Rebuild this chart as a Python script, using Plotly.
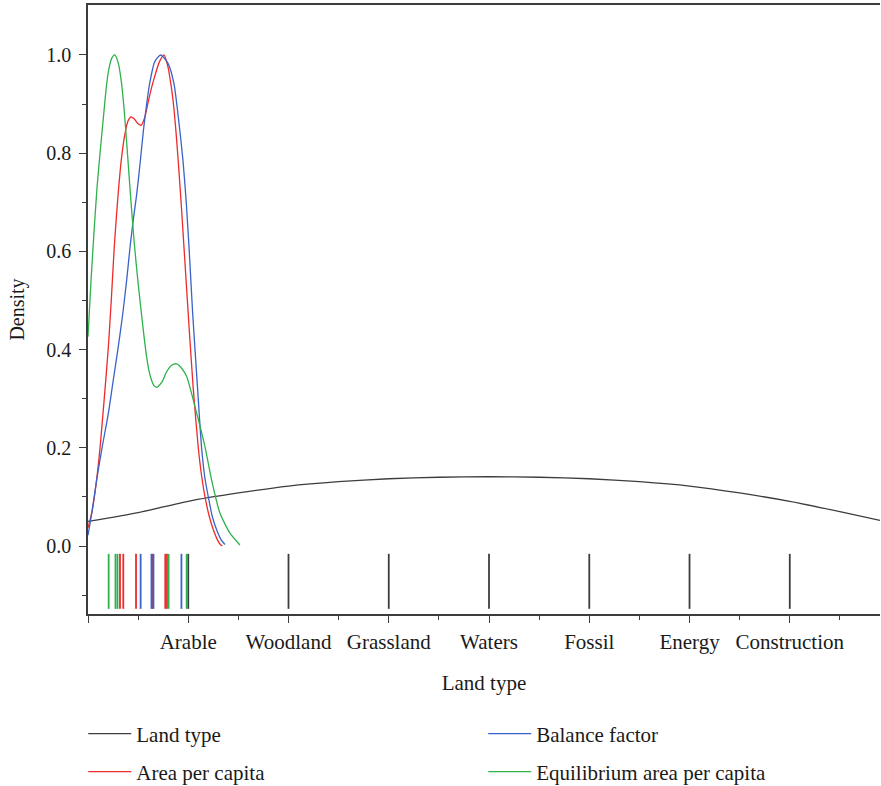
import plotly.graph_objects as go

# ---- data ----
land_types = ["Arable", "Woodland", "Grassland", "Waters", "Fossil", "Energy", "Construction"]
land_pos = [1, 2, 3, 4, 5, 6, 7]

# rug values (raw observations)
rug_land = [1, 2, 3, 4, 5, 6, 7]
rug_area = [0.319, 0.352, 0.479, 0.643, 0.771, 0.788]
rug_balance = [0.525, 0.633, 0.653, 0.932]
rug_equil = [0.206, 0.274, 0.294, 0.804, 0.984]

# density curves
land_x = [0, 0.5, 1, 1.5, 2, 2.5, 3, 3.5, 4, 4.5, 5, 5.5, 6, 6.5, 7, 7.5, 7.9]
land_y = [0.050, 0.068, 0.091, 0.108, 0.122, 0.131, 0.137, 0.140, 0.141, 0.140, 0.137, 0.131, 0.122, 0.108, 0.091, 0.070, 0.052]

area_x = [0.0, 0.04, 0.08, 0.12, 0.16, 0.203, 0.232, 0.262, 0.296, 0.332, 0.369, 0.40, 0.43, 0.46, 0.50, 0.532,
          0.565, 0.598, 0.632, 0.665, 0.71, 0.758, 0.795, 0.831, 0.86, 0.885, 0.91, 0.935, 0.96, 0.985, 1.01,
          1.05, 1.10, 1.135, 1.167, 1.21, 1.25, 1.29, 1.316, 1.34]
area_y = [0.037, 0.07, 0.125, 0.2, 0.295, 0.405, 0.5, 0.609, 0.705, 0.786, 0.84, 0.866, 0.874, 0.87, 0.86, 0.857,
          0.872, 0.902, 0.932, 0.956, 0.985, 1.0, 0.978, 0.935, 0.885, 0.825, 0.755, 0.68, 0.6, 0.52, 0.44,
          0.32, 0.2, 0.14, 0.1, 0.06, 0.033, 0.013, 0.004, 0.0]

bal_x = [0.0, 0.04, 0.086, 0.14, 0.203, 0.25, 0.302, 0.345, 0.386, 0.42, 0.452, 0.485, 0.52, 0.552, 0.585, 0.615,
         0.665, 0.725, 0.798, 0.857, 0.904, 0.947, 0.98, 1.01, 1.044, 1.09, 1.133, 1.165, 1.2, 1.24, 1.283,
         1.33, 1.366]
bal_y = [0.022, 0.07, 0.134, 0.2, 0.27, 0.335, 0.406, 0.47, 0.542, 0.61, 0.665, 0.715, 0.78, 0.845, 0.90, 0.942,
         0.986, 1.0, 0.983, 0.942, 0.868, 0.786, 0.70, 0.6, 0.474, 0.33, 0.2, 0.14, 0.1, 0.06, 0.033,
         0.012, 0.003]

eq_x = [0.0, 0.03, 0.06, 0.09, 0.12, 0.15, 0.183, 0.206, 0.236, 0.266, 0.30, 0.33, 0.36, 0.39, 0.42, 0.46,
        0.50, 0.535, 0.56, 0.585, 0.61, 0.635, 0.66, 0.685, 0.735, 0.785, 0.835, 0.884, 0.934, 0.984, 1.067,
        1.167, 1.233, 1.316, 1.416, 1.515]
eq_y = [0.426, 0.54, 0.64, 0.73, 0.80, 0.865, 0.935, 0.969, 0.993, 1.0, 0.985, 0.95, 0.89, 0.81, 0.725, 0.62,
        0.535, 0.47, 0.425, 0.385, 0.355, 0.337, 0.326, 0.323, 0.333, 0.355, 0.368, 0.371, 0.362, 0.345, 0.284,
        0.202, 0.134, 0.067, 0.026, 0.002]

# ---- styling ----
C_LAND = "#3d3d3d"
C_AREA = "#ee2a2a"
C_BAL = "#3a62c8"
C_EQ = "#2fb14c"
FONT = "Liberation Serif"
RUG_TOP, RUG_BOT = -0.016, -0.128


def rug(vals):
    xs, ys = [], []
    for v in vals:
        xs += [v, v, None]
        ys += [RUG_TOP, RUG_BOT, None]
    return xs, ys


fig = go.Figure()

series = [
    ("Land type", land_x, land_y, rug_land, C_LAND, "legend", 1),
    ("Area per capita", area_x, area_y, rug_area, C_AREA, "legend3", 3),
    ("Balance factor", bal_x, bal_y, rug_balance, C_BAL, "legend2", 2),
    ("Equilibrium area per capita", eq_x, eq_y, rug_equil, C_EQ, "legend4", 4),
]

for name, xs, ys, rv, col, leg, rank in series:
    fig.add_trace(go.Scatter(x=xs, y=ys, mode="lines", name=name,
                             line=dict(color=col, width=1.3, shape="spline", smoothing=0.6),
                             legend=leg, legendrank=rank, hoverinfo="skip"))
for name, xs, ys, rv, col, leg, rank in series:
    rx, ry = rug(rv)
    fig.add_trace(go.Scatter(x=rx, y=ry, mode="lines", showlegend=False,
                             line=dict(color=col, width=1.8), hoverinfo="skip"))

axis_common = dict(showgrid=False, zeroline=False, showline=True, linecolor="#3c3c3c", linewidth=1.5,
                   ticks="outside", ticklen=7, tickwidth=1.3, tickcolor="#3c3c3c",
                   tickfont=dict(family=FONT, size=21, color="#1a1a1a"))

fig.update_xaxes(**axis_common, range=[0, 7.9], mirror=True,
                 tickmode="array", tickvals=[0] + land_pos, ticktext=[""] + land_types,
                 minor=dict(ticks="outside", ticklen=4, tickwidth=1.2, tickcolor="#3c3c3c", dtick=0.5, tick0=0),
                 ticklabelstandoff=1,
                 title=dict(text="Land type", font=dict(family=FONT, size=21, color="#1a1a1a"), standoff=22))
fig.update_yaxes(**axis_common, range=[-0.1385, 1.1018],
                 tickmode="array", tickvals=[0, 0.2, 0.4, 0.6, 0.8, 1.0],
                 ticktext=["0.0", "0.2", "0.4", "0.6", "0.8", "1.0"],
                 minor=dict(ticks="outside", ticklen=4, tickwidth=1.2, tickcolor="#3c3c3c",
                            tickvals=[-0.1, 0.1, 0.3, 0.5, 0.7, 0.9]),
                 ticklabelstandoff=4,
                 title=dict(text="Density", font=dict(family=FONT, size=20, color="#1a1a1a"), standoff=16))
fig.update_yaxes(tickfont=dict(family=FONT, size=20, color="#1a1a1a"))

leg_common = dict(orientation="v", xanchor="left", yanchor="middle", yref="container",
                  bgcolor="rgba(0,0,0,0)",
                  font=dict(family=FONT, size=21, color="#1a1a1a"), borderwidth=0, itemwidth=43)
fig.update_layout(
    width=881, height=786,
    margin=dict(l=88, r=1, t=5, b=172, autoexpand=False),
    paper_bgcolor="white", plot_bgcolor="white",
    legend=dict(**leg_common, x=-0.006, y=0.0662),
    legend2=dict(**leg_common, x=0.499, y=0.0662),
    legend3=dict(**leg_common, x=-0.006, y=0.0178),
    legend4=dict(**leg_common, x=0.499, y=0.0178),
)

fig.write_html("out.html", config={"displayModeBar": False},
               post_script="document.body.style.margin='0';document.body.style.overflow='hidden';")
